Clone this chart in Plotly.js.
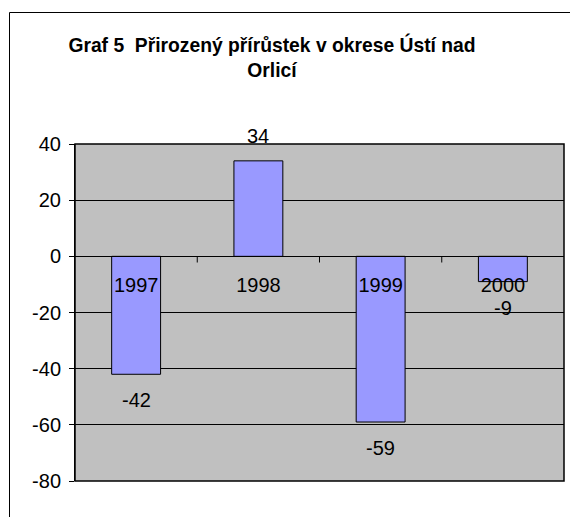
<!DOCTYPE html>
<html>
<head>
<meta charset="utf-8">
<script src="https://cdn.plot.ly/plotly-3.0.1.min.js"></script>
<style>html,body{margin:0;padding:0;background:#fff;}#chart{width:570px;height:517px;}</style>
</head>
<body>
<div id="chart"></div>
<script>
const years = ['1997', '1998', '1999', '2000'];
const values = [-42, 34, -59, -9];
const yTickVals = [-80, -60, -40, -20, 0, 20, 40];
const yTickText = ['-80', '-60', '-40', '-20', '0', '20', '40'];
const titleText = 'Graf 5  Přirozený přírůstek v okrese Ústí nad<br>Orlicí';

const FONT = '"Liberation Sans", Arial, sans-serif';

const xIdx = years.map((_, i) => i);

const trace = {
  type: 'bar',
  x: xIdx,
  y: values,
  width: 0.4,
  marker: {color: '#9999FF', line: {color: '#000000', width: 1}},
  hoverinfo: 'skip'
};

const annotations = values.map((v, i) => ({
  x: xIdx[i], y: v, xref: 'x', yref: 'y',
  text: String(v), showarrow: false,
  yshift: v >= 0 ? 25 : -26,
  font: {family: FONT, size: 20, color: '#000'}
}));

const boundaries = [0.5, 1.5, 2.5];

const layout = {
  width: 570, height: 517,
  margin: {l: 75, r: 6, t: 144, b: 36},
  paper_bgcolor: '#ffffff',
  plot_bgcolor: '#C0C0C0',
  font: {family: FONT, size: 20, color: '#000'},
  showlegend: false,
  title: {
    text: titleText,
    x: 272 / 570, xref: 'container', xanchor: 'center',
    y: 1 - 52 / 517, yref: 'container', yanchor: 'middle',
    font: {family: FONT, size: 19.3, color: '#000', weight: 'bold'}
  },
  xaxis: {
    type: 'linear',
    range: [-0.5, 3.5],
    anchor: 'free', position: 2 / 3,
    showline: true, linecolor: '#000', linewidth: 1,
    tickvals: xIdx, ticktext: years,
    ticks: '', showgrid: false, zeroline: false,
    ticklabelstandoff: 11,
    tickfont: {family: FONT, size: 20, color: '#000'}
  },
  yaxis: {
    range: [-80, 40],
    tickvals: yTickVals, ticktext: yTickText,
    showline: true, linecolor: '#000', linewidth: 1,
    ticks: 'outside', ticklen: 5, tickcolor: '#000', tickwidth: 1,
    showgrid: true, gridcolor: '#000', gridwidth: 1,
    zeroline: true, zerolinecolor: '#000', zerolinewidth: 1,
    ticklabelstandoff: 4,
    tickfont: {family: FONT, size: 20, color: '#000'}
  },
  annotations: annotations,
  shapes: [
    {type: 'rect', xref: 'paper', yref: 'paper', x0: 0, x1: 1, y0: 0, y1: 1,
     line: {color: '#000', width: 1.5}, layer: 'above'},
    ...boundaries.map(b => ({type: 'line', xref: 'x', yref: 'y', x0: b, x1: b, y0: 0, y1: -2.2,
     line: {color: '#000', width: 1}})),
    {type: 'line', xref: 'paper', yref: 'paper',
     x0: (9.5 - 75) / 489, x1: (600 - 75) / 489,
     y0: (481 - 12.5) / 337, y1: (481 - 12.5) / 337,
     line: {color: '#000', width: 1}},
    {type: 'line', xref: 'paper', yref: 'paper',
     x0: (9.5 - 75) / 489, x1: (9.5 - 75) / 489,
     y0: (481 - 12.5) / 337, y1: (481 - 560) / 337,
     line: {color: '#000', width: 1}}
  ]
};

Plotly.newPlot('chart', [trace], layout, {displayModeBar: false, staticPlot: true});
</script>
</body>
</html>
